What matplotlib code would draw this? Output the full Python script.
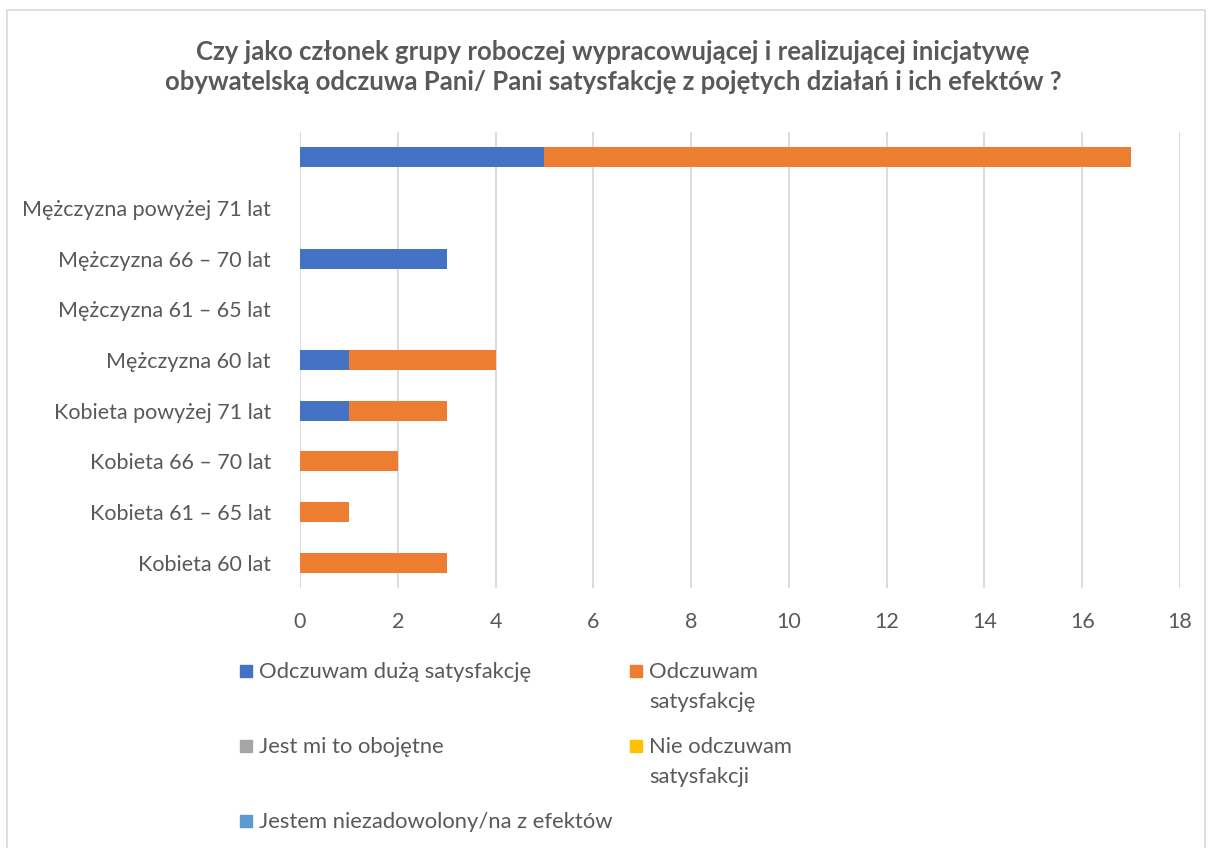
import numpy as np
import matplotlib.pyplot as plt
from matplotlib.patches import Rectangle

plt.rcParams['font.family'] = ['Lato', 'DejaVu Sans']

# categories, bottom to top
categories = ["Kobieta 60 lat", "Kobieta 61 – 65 lat", "Kobieta 66 – 70 lat",
              "Kobieta powyżej 71 lat", "Mężczyzna 60 lat", "Mężczyzna 61 – 65 lat",
              "Mężczyzna 66 – 70 lat", "Mężczyzna powyżej 71 lat", ""]

duza = [0, 0, 0, 1, 1, 0, 3, 0, 5]
satysf = [3, 1, 2, 2, 3, 0, 0, 0, 12]
obojetne = [0, 0, 0, 0, 0, 0, 0, 0, 0]
nie_odcz = [0, 0, 0, 0, 0, 0, 0, 0, 0]
niezadow = [0, 0, 0, 0, 0, 0, 0, 0, 0]

series_labels = ["Odczuwam dużą satysfakcję", "Odczuwam\nsatysfakcję",
                 "Jest mi to obojętne", "Nie odczuwam\nsatysfakcji",
                 "Jestem niezadowolony/na z efektów"]
colors = ["#4472C4", "#ED7D31", "#A5A5A5", "#FFC000", "#5B9BD5"]

title = ("Czy jako członek grupy roboczej wypracowującej i realizującej inicjatywę\n"
         "obywatelską odczuwa Pani/ Pani satysfakcję z pojętych działań i ich efektów ?")

txt = "#595959"
W, H = 1209, 848
fig = plt.figure(figsize=(W / 100, H / 100), dpi=100)

# outer chart border
fig.patches.append(Rectangle((7 / W, -0.01), 1198 / W, 1 - 10 / H + 0.01,
                             transform=fig.transFigure, fill=False,
                             edgecolor="#d9d9d9", linewidth=1.2))

fig.text(613 / W, 1 - 67 / H, title, ha="center", va="center", fontsize=18.5,
         fontweight="bold", color=txt, linespacing=1.35)

ax = fig.add_axes([300 / W, 1 - 588 / H, 880 / W, 456 / H])
y = np.arange(len(categories))
left = np.zeros(len(categories))
for vals, c in zip([duza, satysf, obojetne, nie_odcz, niezadow], colors):
    ax.barh(y, vals, left=left, height=0.4, color=c, zorder=3)
    left += np.array(vals)

ax.set_xlim(0, 18)
ax.set_ylim(-0.5, len(categories) - 0.5)
ax.set_xticks(range(0, 19, 2))
ax.set_yticks(y)
ax.set_yticklabels(categories)
ax.grid(axis="x", color="#d9d9d9", linewidth=1.3, zorder=0)
for s in ax.spines.values():
    s.set_visible(False)
ax.tick_params(length=0, labelsize=15.5, colors=txt)
ax.tick_params(axis="x", pad=17)
ax.tick_params(axis="y", pad=21)

# legend, two columns
pos = [(240, 671), (630, 671), (240, 746), (630, 746), (240, 821)]
for (px, py), lab, c in zip(pos, series_labels, colors):
    fig.patches.append(Rectangle((px / W, 1 - (py + 6) / H), 12 / W, 12 / H,
                                 transform=fig.transFigure, color=c))
    fig.text((px + 19) / W, 1 - (py - 9) / H, lab, ha="left", va="top",
             fontsize=15.8, color=txt, linespacing=1.62)

fig.savefig("out.png", dpi=100)
